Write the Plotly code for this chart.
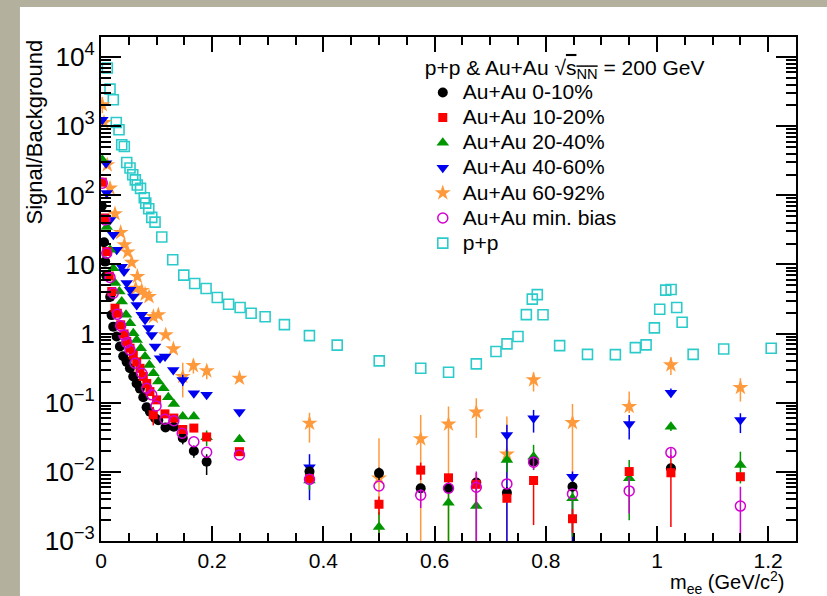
import plotly.graph_objects as go

# ---------------- data ----------------
# Au+Au 0-10%
bx = [0.0015, 0.0055, 0.0075, 0.0095, 0.0165, 0.019, 0.022, 0.028, 0.034, 0.040, 0.046, 0.052, 0.058, 0.064, 0.070, 0.076, 0.082, 0.088, 0.097, 0.103, 0.116, 0.131, 0.147, 0.167, 0.190, 0.375, 0.500, 0.575, 0.625, 0.675, 0.730, 0.778, 0.848, 1.025]
by = [70, 21, 11, 6.9, 3.4, 1.85, 1.26, 0.91, 0.65, 0.47, 0.39, 0.315, 0.24, 0.19, 0.16, 0.12, 0.086, 0.074, 0.060, 0.056, 0.044, 0.045, 0.031, 0.020, 0.014, 0.0101, 0.0096, 0.0058, 0.0058, 0.0070, 0.0050, 0.0141, 0.0061, 0.0113]
b_ep = [0, 0, 0, 0, 0, 0, 0, 0, 0, 0, 0, 0, 0, 0, 0, 0, 0, 0, 0, 0, 0, 0, 0.006, 0.004, 0.004, 0, 0.002, 0, 0, 0, 0.001, 0, 0, 0.002]
b_em = [0, 0, 0, 0, 0, 0, 0, 0, 0, 0, 0, 0, 0, 0, 0, 0, 0, 0, 0, 0, 0, 0, 0.006, 0.004, 0.005, 0, 0.002, 0, 0, 0, 0.001, 0, 0, 0.002]

# Au+Au 10-20%
rx = [0.0024, 0.0072, 0.0103, 0.0149, 0.0193, 0.0252, 0.0293, 0.0354, 0.0414, 0.0462, 0.0522, 0.0581, 0.0642, 0.0702, 0.0761, 0.0823, 0.088, 0.094, 0.100, 0.115, 0.131, 0.147, 0.167, 0.190, 0.249, 0.375, 0.500, 0.575, 0.625, 0.675, 0.730, 0.778, 0.848, 0.950, 1.025, 1.150]
ry = [155, 47, 15.4, 6.8, 4.06, 2.33, 1.97, 1.34, 0.99, 0.77, 0.615, 0.49, 0.39, 0.315, 0.24, 0.19, 0.145, 0.067, 0.11, 0.069, 0.060, 0.041, 0.043, 0.032, 0.0196, 0.0080, 0.0034, 0.0106, 0.0082, 0.0066, 0.00415, 0.0075, 0.0021, 0.0101, 0.0097, 0.0085]
r_ep = [0, 0, 0, 0, 0, 0, 0, 0, 0, 0, 0, 0, 0, 0, 0, 0, 0, 0.02, 0, 0, 0, 0, 0, 0, 0, 0, 0.001, 0.003, 0, 0.003, 0, 0.001, 0.0008, 0, 0.0079, 0]
r_em = [0, 0, 0, 0, 0, 0, 0, 0, 0, 0, 0, 0, 0, 0, 0, 0, 0, 0.02, 0, 0, 0, 0, 0, 0, 0, 0, 0.001, 0.003, 0, 0.003, 0, 0.0058, 0.0008, 0, 0.0081, 0]

# Au+Au 20-40%
gx = [0.0024, 0.0103, 0.0162, 0.0221, 0.0252, 0.033, 0.0373, 0.045, 0.0522, 0.0581, 0.0642, 0.0715, 0.0792, 0.087, 0.0942, 0.1031, 0.1122, 0.121, 0.131, 0.147, 0.167, 0.190, 0.249, 0.375, 0.500, 0.625, 0.675, 0.730, 0.778, 0.848, 0.950, 1.025, 1.150]
gy = [327, 34.7, 16.3, 8.8, 5.4, 4.06, 2.9, 1.87, 1.41, 1.01, 0.81, 0.615, 0.465, 0.352, 0.267, 0.202, 0.162, 0.12, 0.096, 0.063, 0.063, 0.0317, 0.0296, 0.0075, 0.0016, 0.00358, 0.0032, 0.0149, 0.0166, 0.00415, 0.0081, 0.045, 0.0126]
g_ep = [0, 0, 0, 0, 0, 0, 0, 0, 0, 0, 0, 0, 0, 0, 0, 0, 0, 0, 0, 0, 0, 0.008, 0, 0.002, 0.001, 0.0045, 0.0036, 0.005, 0.008, 0.003, 0.0068, 0.006, 0.007]
g_em = [0, 0, 0, 0, 0, 0, 0, 0, 0, 0, 0, 0, 0, 0, 0, 0, 0, 0, 0, 0, 0, 0.008, 0, 0.002, 0.0016, 0.00358, 0.0032, 0.005, 0.006, 0.003, 0.0061, 0.006, 0.0058]

# Au+Au 40-60%
ux = [0.0024, 0.009, 0.0103, 0.0162, 0.0221, 0.0283, 0.0373, 0.0414, 0.0462, 0.0522, 0.0581, 0.0642, 0.0732, 0.0792, 0.0851, 0.0912, 0.0972, 0.1062, 0.1152, 0.130, 0.147, 0.167, 0.190, 0.249, 0.375, 0.730, 0.778, 0.848, 0.950, 1.025, 1.150]
uy = [1240, 292, 108, 44, 26.8, 16.3, 9.3, 7.9, 5.4, 4.29, 3.43, 2.6, 1.87, 1.58, 1.2, 0.958, 0.649, 0.44, 0.465, 0.298, 0.214, 0.137, 0.13, 0.0736, 0.0117, 0.0342, 0.0597, 0.0085, 0.0493, 0.14, 0.0564]
u_ep = [0, 0, 0, 0, 0, 0, 0, 0, 0, 0, 0, 0, 0, 0, 0, 0, 0, 0, 0, 0, 0.04, 0, 0, 0, 0.0063, 0.014, 0.019, 0.0016, 0.017, 0.02, 0.014]
u_em = [0, 0, 0, 0, 0, 0, 0, 0, 0, 0, 0, 0, 0, 0, 0, 0, 0, 0, 0, 0, 0.04, 0, 0, 0, 0.0078, 0.0342, 0.0227, 0.0085, 0.020, 0.02, 0.020]

# Au+Au 60-92%
ox = [0.0024, 0.0054, 0.0113, 0.0162, 0.0252, 0.0354, 0.042, 0.048, 0.0552, 0.0624, 0.0654, 0.0732, 0.0792, 0.0864, 0.0942, 0.1031, 0.1164, 0.1302, 0.147, 0.1662, 0.1902, 0.249, 0.375, 0.500, 0.575, 0.625, 0.675, 0.730, 0.778, 0.848, 0.950, 1.025, 1.150]
oy = [2040, 1130, 276, 127, 54, 29, 19.2, 15.1, 10.7, 4.5, 6.7, 4.19, 3.71, 3.43, 1.76, 1.87, 0.957, 0.60, 0.239, 0.344, 0.289, 0.226, 0.0505, 0.0081, 0.030, 0.049, 0.073, 0.018, 0.214, 0.0515, 0.088, 0.352, 0.166]
o_ep = [600, 0, 0, 0, 0, 0, 0, 0, 0, 0, 0, 0, 0, 0, 0, 0, 0, 0, 0.14, 0.08, 0.06, 0, 0.021, 0.0225, 0.0365, 0.039, 0.043, 0.045, 0.062, 0.0445, 0.057, 0.103, 0.06]
o_em = [500, 0, 0, 0, 0, 0, 0, 0, 0, 0, 0, 0, 0, 0, 0, 0, 0, 0, 0.12, 0.08, 0.07, 0, 0.024, 0.0081, 0.030, 0.049, 0.042, 0.018, 0.069, 0.0515, 0.017, 0.1, 0.062]

# Au+Au min. bias
mx = [0.0024, 0.0072, 0.0103, 0.0162, 0.0221, 0.0293, 0.0354, 0.0414, 0.0462, 0.0522, 0.0612, 0.0733, 0.0823, 0.0912, 0.099, 0.115, 0.131, 0.146, 0.167, 0.190, 0.249, 0.375, 0.500, 0.575, 0.625, 0.675, 0.730, 0.778, 0.848, 0.950, 1.025, 1.150]
my = [150, 44, 14.6, 6.5, 3.85, 1.9, 1.3, 0.95, 0.74, 0.58, 0.373, 0.267, 0.162, 0.13, 0.090, 0.0577, 0.055, 0.0362, 0.0273, 0.0192, 0.0176, 0.0078, 0.00625, 0.0046, 0.0058, 0.0060, 0.0067, 0.0138, 0.0048, 0.0053, 0.019, 0.0032]
m_ep = [0, 0, 0, 0, 0, 0, 0, 0, 0, 0, 0, 0, 0, 0, 0, 0, 0, 0, 0, 0, 0, 0, 0, 0.001, 0, 0.0041, 0, 0.003, 0, 0.003, 0.003, 0.0029]
m_em = [0, 0, 0, 0, 0, 0, 0, 0, 0, 0, 0, 0, 0, 0, 0, 0, 0, 0, 0, 0, 0, 0, 0, 0.0016, 0, 0.006, 0, 0.003, 0, 0.0028, 0.003, 0.0032]

# p+p
px = [0.0113, 0.0162, 0.0221, 0.0275, 0.0324, 0.0373, 0.0419, 0.0463, 0.0522, 0.0571, 0.0617, 0.0652, 0.0711, 0.0778, 0.0805, 0.0859, 0.0913, 0.0972, 0.1093, 0.129, 0.1489, 0.1686, 0.189, 0.2091, 0.2295, 0.2502, 0.27, 0.2952, 0.3299, 0.3749, 0.4248, 0.5004, 0.5751, 0.6251, 0.675, 0.7104, 0.7302, 0.75, 0.765, 0.7757, 0.7847, 0.795, 0.8249, 0.875, 0.9251, 0.9611, 0.9804, 0.9953, 1.0049, 1.0157, 1.0254, 1.0355, 1.0452, 1.065, 1.12, 1.2054]
py = [6930, 3440, 2410, 1130, 887, 538, 508, 298, 248, 198, 167, 141, 126, 92, 77, 64, 48, 41, 25, 11.7, 7.0, 5.3, 4.48, 3.32, 2.66, 2.38, 1.97, 1.75, 1.35, 0.935, 0.682, 0.403, 0.315, 0.276, 0.365, 0.55, 0.71, 0.906, 1.88, 3.15, 3.66, 1.87, 0.67, 0.50, 0.497, 0.627, 0.686, 1.21, 2.25, 4.25, 4.34, 2.38, 1.46, 0.50, 0.60, 0.615]

names = ["Au+Au 0-10%", "Au+Au 10-20%", "Au+Au 20-40%", "Au+Au 40-60%",
         "Au+Au 60-92%", "Au+Au min. bias", "p+p"]

FONT = "Liberation Sans, Arial, Helvetica, sans-serif"

# (name index, x, y, err+, err-, symbol, color, size, line width)
series = [
    (6, px, py, None, None, "square-open", "#2ccbcb", 10, 1.6),
    (4, ox, oy, o_ep, o_em, "star", "#ff9a3c", 12, 0),
    (3, ux, uy, u_ep, u_em, "triangle-down", "#0000f0", 11, 0),
    (2, gx, gy, g_ep, g_em, "triangle-up", "#009600", 11, 0),
    (0, bx, by, b_ep, b_em, "circle", "#000000", 10, 0),
    (1, rx, ry, r_ep, r_em, "square", "#ff0000", 9, 0),
    (5, mx, my, m_ep, m_em, "circle-open", "#d200d2", 10, 1.5),
]

fig = go.Figure()
for idx, x, y, ep, em, sym, col, sz, lw in series:
    err = None
    if ep is not None:
        err = dict(type="data", symmetric=False, array=ep, arrayminus=em,
                   color=col, thickness=1.5, width=0, visible=True)
    fig.add_trace(go.Scatter(
        x=x, y=y, mode="markers",
        name='<span style="font-size:21px">' + names[idx] + '</span>',
        legendrank=idx + 1,
        marker=dict(symbol=sym, color=col, size=sz,
                    line=dict(color=col, width=lw)),
        error_y=err,
    ))

axis_common = dict(
    showline=True, linecolor="black", linewidth=2, mirror="ticks",
    ticks="inside", tickcolor="black", tickwidth=1.5,
    showgrid=False, zeroline=False,
    tickfont=dict(family=FONT, size=21, color="black"),
)

fig.update_xaxes(
    range=[0, 1.25], tick0=0, dtick=0.2, ticklen=15,
    minor=dict(ticks="inside", ticklen=8, dtick=0.05, tickwidth=1.5,
               tickcolor="black", showgrid=False),
    **axis_common,
)
fig.update_yaxes(
    type="log", range=[-3, 4.29], dtick=1, exponentformat="power", ticklen=20,
    minor=dict(ticks="inside", ticklen=10, dtick="D1", tickwidth=1.5,
               tickcolor="black", showgrid=False),
    **axis_common,
)

title_txt = ('<span style="font-size:21px">p+p & Au+Au \u221a'
             '<span style="text-decoration:overline">s<sub>NN</sub></span>'
             ' = 200 GeV</span>')

fig.update_layout(
    width=827, height=596, autosize=False,
    margin=dict(l=101, r=31, t=37, b=55),
    paper_bgcolor="#b3b19e", plot_bgcolor="white",
    font=dict(family=FONT, size=20, color="black"),
    legend=dict(
        x=0.463, y=0.984, xanchor="left", yanchor="top",
        bgcolor="rgba(0,0,0,0)", borderwidth=0,
        font=dict(family=FONT, size=17, color="black"),
        title=dict(text=title_txt, font=dict(family=FONT, size=23, color="black")),
        tracegroupgap=0,
    ),
    shapes=[dict(type="rect", xref="paper", yref="paper",
                 x0=-0.1166, x1=1.2, y0=-0.25, y1=1.0595,
                 fillcolor="white", line=dict(width=0), layer="below")],
    annotations=[
        dict(text="Signal/Background", xref="paper", yref="paper",
             x=-0.095, y=1.0, xanchor="center", yanchor="top", textangle=-90,
             showarrow=False, font=dict(family=FONT, size=22, color="black")),
        dict(text="m<sub>ee</sub> (GeV/c<sup>2</sup>)", xref="paper", yref="paper",
             x=0.987, y=-0.083, xanchor="right", yanchor="middle",
             showarrow=False, font=dict(family=FONT, size=20, color="black")),
    ],
)

fig.write_html("out.html")
